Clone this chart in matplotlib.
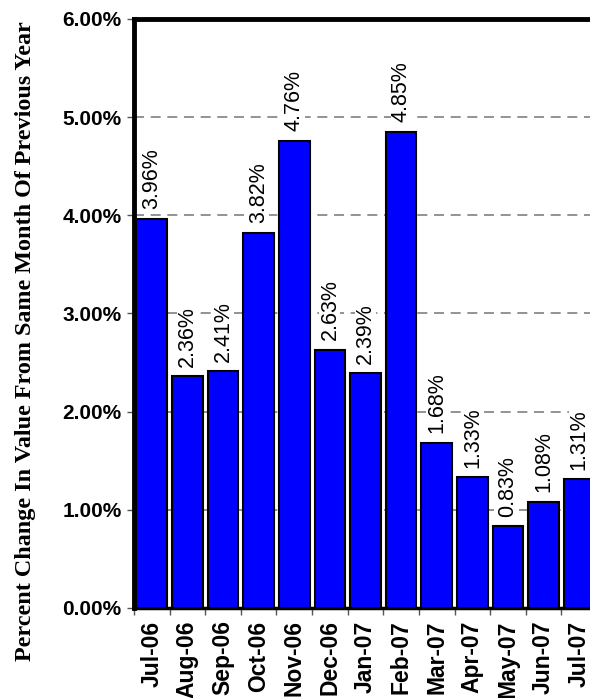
import matplotlib
matplotlib.use("Agg")
import matplotlib.pyplot as plt
from matplotlib.ticker import FuncFormatter

# 月度同比变化
months = ["Jul-06", "Aug-06", "Sep-06", "Oct-06", "Nov-06", "Dec-06", "Jan-07",
          "Feb-07", "Mar-07", "Apr-07", "May-07", "Jun-07", "Jul-07"]
pct_change = [3.96, 2.36, 2.41, 3.82, 4.76, 2.63, 2.39,
              4.85, 1.68, 1.33, 0.83, 1.08, 1.31]
y_ticks = [0, 1, 2, 3, 4, 5, 6]

plt.rcParams["font.family"] = ["Liberation Sans", "DejaVu Sans"]

fig = plt.figure(figsize=(5.9, 6.98), dpi=100)
ax = fig.add_axes([0.227, 0.129, 0.785, 0.844])

x = list(range(len(months)))
bars = ax.bar(x, pct_change, width=0.86, color="#0000FF",
              edgecolor="black", linewidth=1.5, zorder=3)

# 柱顶数值标签
for rect, v in zip(bars, pct_change):
    ax.annotate(f"{v:.2f}%", (rect.get_x() + rect.get_width() / 2, v),
                xytext=(0, 7), textcoords="offset points",
                rotation=90, ha="center", va="bottom", fontsize=15.5,
                bbox=dict(facecolor="white", edgecolor="none", pad=0),
                zorder=4)

ax.set_xlim(-0.5, len(months) - 0.5)
ax.set_ylim(0, 6)
ax.set_yticks(y_ticks)
ax.yaxis.set_major_formatter(FuncFormatter(lambda v, _: f"{v:.2f}%"))
ax.set_xticks([i - 0.5 for i in x], minor=False)
ax.set_xticklabels([])
ax.set_xticks(x, minor=True)
ax.set_xticklabels(months, minor=True, rotation=90, fontsize=16.5,
                   fontweight="bold")
ax.tick_params(axis="x", which="minor", length=0, pad=9)
ax.tick_params(axis="x", which="major", length=5, width=1, color="#555555")
ax.tick_params(axis="y", length=5, width=1, color="#555555", pad=4)
for lbl in ax.get_yticklabels():
    lbl.set_fontsize(15)
    lbl.set_fontweight("bold")

ax.yaxis.grid(True, linestyle=(0, (6, 4)), color="#808080", linewidth=1.2,
              zorder=0)
ax.set_axisbelow(True)

ax.spines["left"].set_linewidth(3.5)
ax.spines["top"].set_linewidth(3.5)
ax.spines["bottom"].set_linewidth(2.5)
ax.spines["right"].set_visible(False)

ax.set_ylabel("Percent Change In Value From Same Month Of Previous Year",
              family=["Liberation Serif", "DejaVu Serif"], fontsize=17.4,
              fontweight="bold")
ax.yaxis.set_label_coords(-0.212, 0.453)

fig.savefig("out.png", dpi=100)
